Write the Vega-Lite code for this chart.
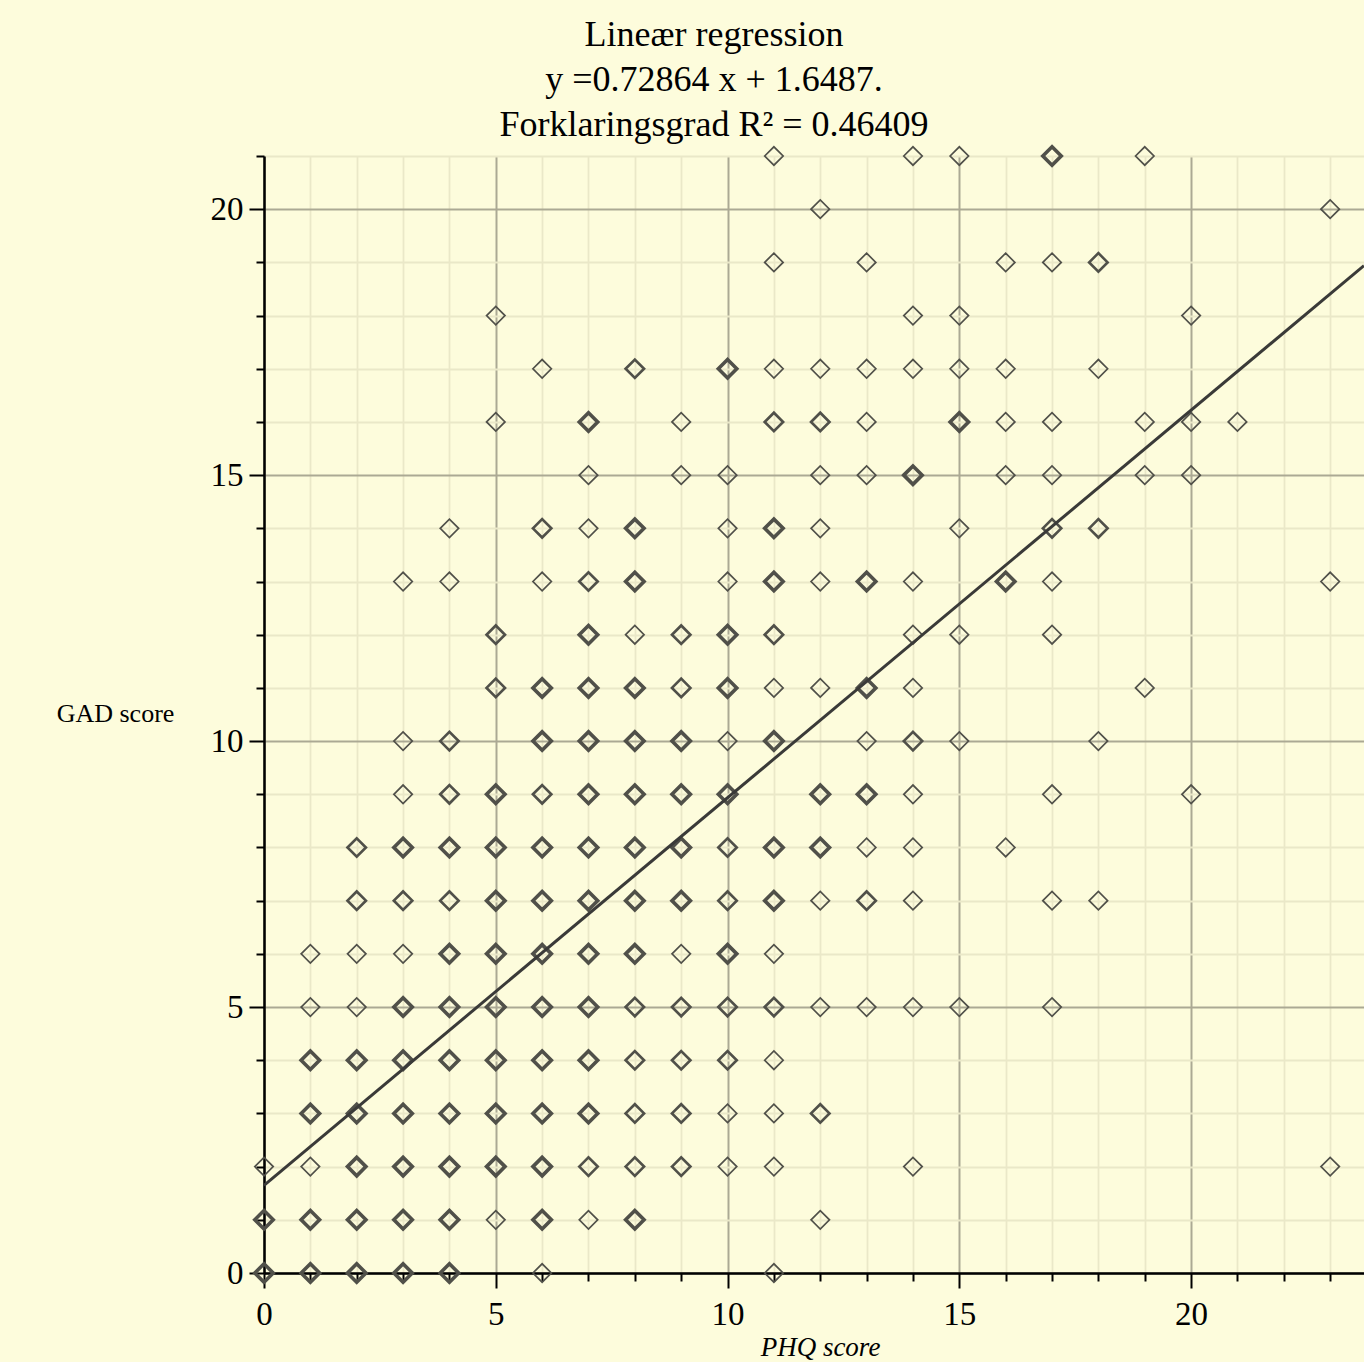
{
  "$schema": "https://vega.github.io/schema/vega-lite/v6.json",
  "width": 1100,
  "height": 1117,
  "autosize": {"type": "none"},
  "padding": {"left": 264, "top": 156, "right": 0, "bottom": 89},
  "background": "#FDFCDC",
  "config": {"view": {"stroke": null, "fill": "#FDFCDC"}},
  "title": {
    "text": ["Lineær regression", "y =0.72864 x + 1.6487.", "Forklaringsgrad R² = 0.46409"],
    "font": "Liberation Serif",
    "fontSize": 36,
    "fontWeight": "normal",
    "color": "#000000",
    "lineHeight": 45,
    "anchor": "middle",
    "dx": -100,
    "offset": -4
  },
  "datasets": {
    "pts": [
      {"phq":0,"gad":0,"n":3},{"phq":1,"gad":0,"n":3},{"phq":2,"gad":0,"n":3},{"phq":3,"gad":0,"n":3},{"phq":4,"gad":0,"n":3},{"phq":6,"gad":0,"n":1},{"phq":11,"gad":0,"n":1},
      {"phq":0,"gad":1,"n":3},{"phq":1,"gad":1,"n":3},{"phq":2,"gad":1,"n":3},{"phq":3,"gad":1,"n":3},{"phq":4,"gad":1,"n":3},{"phq":5,"gad":1,"n":1},{"phq":6,"gad":1,"n":3},{"phq":7,"gad":1,"n":1},{"phq":8,"gad":1,"n":3},{"phq":12,"gad":1,"n":1},
      {"phq":0,"gad":2,"n":1},{"phq":1,"gad":2,"n":1},{"phq":2,"gad":2,"n":3},{"phq":3,"gad":2,"n":3},{"phq":4,"gad":2,"n":3},{"phq":5,"gad":2,"n":3},{"phq":6,"gad":2,"n":3},{"phq":7,"gad":2,"n":2},{"phq":8,"gad":2,"n":2},{"phq":9,"gad":2,"n":2},{"phq":10,"gad":2,"n":1},{"phq":11,"gad":2,"n":1},{"phq":14,"gad":2,"n":1},{"phq":23,"gad":2,"n":1},
      {"phq":1,"gad":3,"n":3},{"phq":2,"gad":3,"n":3},{"phq":3,"gad":3,"n":3},{"phq":4,"gad":3,"n":3},{"phq":5,"gad":3,"n":3},{"phq":6,"gad":3,"n":3},{"phq":7,"gad":3,"n":3},{"phq":8,"gad":3,"n":2},{"phq":9,"gad":3,"n":2},{"phq":10,"gad":3,"n":1},{"phq":11,"gad":3,"n":1},{"phq":12,"gad":3,"n":2},
      {"phq":1,"gad":4,"n":3},{"phq":2,"gad":4,"n":3},{"phq":3,"gad":4,"n":3},{"phq":4,"gad":4,"n":3},{"phq":5,"gad":4,"n":3},{"phq":6,"gad":4,"n":3},{"phq":7,"gad":4,"n":3},{"phq":8,"gad":4,"n":2},{"phq":9,"gad":4,"n":2},{"phq":10,"gad":4,"n":2},{"phq":11,"gad":4,"n":1},
      {"phq":1,"gad":5,"n":1},{"phq":2,"gad":5,"n":1},{"phq":3,"gad":5,"n":3},{"phq":4,"gad":5,"n":3},{"phq":5,"gad":5,"n":3},{"phq":6,"gad":5,"n":3},{"phq":7,"gad":5,"n":3},{"phq":8,"gad":5,"n":2},{"phq":9,"gad":5,"n":2},{"phq":10,"gad":5,"n":2},{"phq":11,"gad":5,"n":2},{"phq":12,"gad":5,"n":1},{"phq":13,"gad":5,"n":1},{"phq":14,"gad":5,"n":1},{"phq":15,"gad":5,"n":1},{"phq":17,"gad":5,"n":1},
      {"phq":1,"gad":6,"n":1},{"phq":2,"gad":6,"n":1},{"phq":3,"gad":6,"n":1},{"phq":4,"gad":6,"n":3},{"phq":5,"gad":6,"n":3},{"phq":6,"gad":6,"n":3},{"phq":7,"gad":6,"n":3},{"phq":8,"gad":6,"n":3},{"phq":9,"gad":6,"n":1},{"phq":10,"gad":6,"n":3},{"phq":11,"gad":6,"n":1},
      {"phq":2,"gad":7,"n":2},{"phq":3,"gad":7,"n":2},{"phq":4,"gad":7,"n":2},{"phq":5,"gad":7,"n":3},{"phq":6,"gad":7,"n":3},{"phq":7,"gad":7,"n":3},{"phq":8,"gad":7,"n":3},{"phq":9,"gad":7,"n":3},{"phq":10,"gad":7,"n":2},{"phq":11,"gad":7,"n":3},{"phq":12,"gad":7,"n":1},{"phq":13,"gad":7,"n":2},{"phq":14,"gad":7,"n":1},{"phq":17,"gad":7,"n":1},{"phq":18,"gad":7,"n":1},
      {"phq":2,"gad":8,"n":2},{"phq":3,"gad":8,"n":3},{"phq":4,"gad":8,"n":3},{"phq":5,"gad":8,"n":3},{"phq":6,"gad":8,"n":3},{"phq":7,"gad":8,"n":3},{"phq":8,"gad":8,"n":3},{"phq":9,"gad":8,"n":3},{"phq":10,"gad":8,"n":2},{"phq":11,"gad":8,"n":3},{"phq":12,"gad":8,"n":3},{"phq":13,"gad":8,"n":1},{"phq":14,"gad":8,"n":1},{"phq":16,"gad":8,"n":1},
      {"phq":3,"gad":9,"n":1},{"phq":4,"gad":9,"n":2},{"phq":5,"gad":9,"n":3},{"phq":6,"gad":9,"n":2},{"phq":7,"gad":9,"n":3},{"phq":8,"gad":9,"n":3},{"phq":9,"gad":9,"n":3},{"phq":10,"gad":9,"n":3},{"phq":12,"gad":9,"n":3},{"phq":13,"gad":9,"n":3},{"phq":14,"gad":9,"n":1},{"phq":17,"gad":9,"n":1},{"phq":20,"gad":9,"n":1},
      {"phq":3,"gad":10,"n":1},{"phq":4,"gad":10,"n":2},{"phq":6,"gad":10,"n":3},{"phq":7,"gad":10,"n":3},{"phq":8,"gad":10,"n":3},{"phq":9,"gad":10,"n":3},{"phq":10,"gad":10,"n":1},{"phq":11,"gad":10,"n":3},{"phq":13,"gad":10,"n":1},{"phq":14,"gad":10,"n":2},{"phq":15,"gad":10,"n":1},{"phq":18,"gad":10,"n":1},
      {"phq":5,"gad":11,"n":2},{"phq":6,"gad":11,"n":3},{"phq":7,"gad":11,"n":3},{"phq":8,"gad":11,"n":3},{"phq":9,"gad":11,"n":2},{"phq":10,"gad":11,"n":3},{"phq":11,"gad":11,"n":1},{"phq":12,"gad":11,"n":1},{"phq":13,"gad":11,"n":3},{"phq":14,"gad":11,"n":1},{"phq":19,"gad":11,"n":1},
      {"phq":5,"gad":12,"n":2},{"phq":7,"gad":12,"n":3},{"phq":8,"gad":12,"n":1},{"phq":9,"gad":12,"n":2},{"phq":10,"gad":12,"n":3},{"phq":11,"gad":12,"n":2},{"phq":14,"gad":12,"n":1},{"phq":15,"gad":12,"n":1},{"phq":17,"gad":12,"n":1},
      {"phq":3,"gad":13,"n":1},{"phq":4,"gad":13,"n":1},{"phq":6,"gad":13,"n":1},{"phq":7,"gad":13,"n":2},{"phq":8,"gad":13,"n":3},{"phq":10,"gad":13,"n":1},{"phq":11,"gad":13,"n":3},{"phq":12,"gad":13,"n":1},{"phq":13,"gad":13,"n":3},{"phq":14,"gad":13,"n":1},{"phq":16,"gad":13,"n":3},{"phq":17,"gad":13,"n":1},{"phq":23,"gad":13,"n":1},
      {"phq":4,"gad":14,"n":1},{"phq":6,"gad":14,"n":2},{"phq":7,"gad":14,"n":1},{"phq":8,"gad":14,"n":3},{"phq":10,"gad":14,"n":1},{"phq":11,"gad":14,"n":3},{"phq":12,"gad":14,"n":1},{"phq":15,"gad":14,"n":1},{"phq":17,"gad":14,"n":2},{"phq":18,"gad":14,"n":2},
      {"phq":7,"gad":15,"n":1},{"phq":9,"gad":15,"n":1},{"phq":10,"gad":15,"n":1},{"phq":12,"gad":15,"n":1},{"phq":13,"gad":15,"n":1},{"phq":14,"gad":15,"n":3},{"phq":16,"gad":15,"n":1},{"phq":17,"gad":15,"n":1},{"phq":19,"gad":15,"n":1},{"phq":20,"gad":15,"n":1},
      {"phq":5,"gad":16,"n":1},{"phq":7,"gad":16,"n":3},{"phq":9,"gad":16,"n":1},{"phq":11,"gad":16,"n":2},{"phq":12,"gad":16,"n":2},{"phq":13,"gad":16,"n":1},{"phq":15,"gad":16,"n":3},{"phq":16,"gad":16,"n":1},{"phq":17,"gad":16,"n":1},{"phq":19,"gad":16,"n":1},{"phq":20,"gad":16,"n":1},{"phq":21,"gad":16,"n":1},
      {"phq":6,"gad":17,"n":1},{"phq":8,"gad":17,"n":2},{"phq":10,"gad":17,"n":3},{"phq":11,"gad":17,"n":1},{"phq":12,"gad":17,"n":1},{"phq":13,"gad":17,"n":1},{"phq":14,"gad":17,"n":1},{"phq":15,"gad":17,"n":1},{"phq":16,"gad":17,"n":1},{"phq":18,"gad":17,"n":1},
      {"phq":5,"gad":18,"n":1},{"phq":14,"gad":18,"n":1},{"phq":15,"gad":18,"n":1},{"phq":20,"gad":18,"n":1},
      {"phq":11,"gad":19,"n":1},{"phq":13,"gad":19,"n":1},{"phq":16,"gad":19,"n":1},{"phq":17,"gad":19,"n":1},{"phq":18,"gad":19,"n":2},
      {"phq":12,"gad":20,"n":1},{"phq":23,"gad":20,"n":1},
      {"phq":11,"gad":21,"n":1},{"phq":14,"gad":21,"n":1},{"phq":15,"gad":21,"n":1},{"phq":17,"gad":21,"n":3},{"phq":19,"gad":21,"n":1}
    ],
    "fit": [
      {"phq": 0, "gad": 1.6487},
      {"phq": 23.73, "gad": 18.939}
    ]
  },
  "layer": [
    {
      "data": {"name": "pts"},
      "mark": {"type": "point", "shape": "diamond", "filled": false, "size": 340, "color": "#505049", "opacity": 1},
      "encoding": {
        "x": {
          "field": "phq", "type": "quantitative",
          "scale": {"domain": [0, 23.73], "nice": false, "zero": false},
          "axis": {
            "values": [0,1,2,3,4,5,6,7,8,9,10,11,12,13,14,15,16,17,18,19,20,21,22,23],
            "labelExpr": "datum.value % 5 === 0 ? datum.label : ''",
            "labelFlush": false,
            "labelFont": "Liberation Serif", "labelFontSize": 33, "labelColor": "#000000", "labelPadding": 10,
            "title": "PHQ score", "titleFont": "Liberation Serif", "titleFontStyle": "italic", "titleFontWeight": "normal",
            "titleFontSize": 27, "titleColor": "#000000", "titleX": 556, "titleY": 82, "titleAlign": "center", "titleBaseline": "alphabetic",
            "domainColor": "#000000", "domainWidth": 2.5,
            "tickColor": "#000000", "tickWidth": 2,
            "tickSize": {"condition": {"test": "datum.value % 5 === 0", "value": 15}, "value": 8},
            "grid": true,
            "gridColor": {"condition": {"test": "datum.value % 5 === 0", "value": "#ABA994"}, "value": "#EAE8C8"},
            "gridWidth": {"condition": {"test": "datum.value % 5 === 0", "value": 2}, "value": 1.8}
          }
        },
        "y": {
          "field": "gad", "type": "quantitative",
          "scale": {"domain": [0, 21], "nice": false, "zero": false},
          "axis": {
            "values": [0,1,2,3,4,5,6,7,8,9,10,11,12,13,14,15,16,17,18,19,20,21],
            "labelExpr": "datum.value % 5 === 0 ? datum.label : ''",
            "labelFlush": false,
            "labelFont": "Liberation Serif", "labelFontSize": 33, "labelColor": "#000000", "labelPadding": 6,
            "title": "GAD score", "titleFont": "Liberation Serif", "titleFontWeight": "normal",
            "titleFontSize": 26, "titleColor": "#000000", "titleAngle": 0, "titleX": -149, "titleY": 557, "titleAlign": "center", "titleBaseline": "middle",
            "domainColor": "#000000", "domainWidth": 2.5,
            "tickColor": "#000000", "tickWidth": 2,
            "tickSize": {"condition": {"test": "datum.value % 5 === 0", "value": 15}, "value": 8},
            "grid": true,
            "gridColor": {"condition": {"test": "datum.value % 5 === 0", "value": "#ABA994"}, "value": "#EAE8C8"},
            "gridWidth": {"condition": {"test": "datum.value % 5 === 0", "value": 2}, "value": 1.8}
          }
        },
        "strokeWidth": {"field": "n", "type": "quantitative", "scale": {"domain": [1, 3], "range": [1.7, 3.6]}, "legend": null}
      }
    },
    {
      "data": {"name": "fit"},
      "mark": {"type": "line", "color": "#3a3a38", "strokeWidth": 3},
      "encoding": {
        "x": {"field": "phq", "type": "quantitative"},
        "y": {"field": "gad", "type": "quantitative"}
      }
    }
  ]
}
